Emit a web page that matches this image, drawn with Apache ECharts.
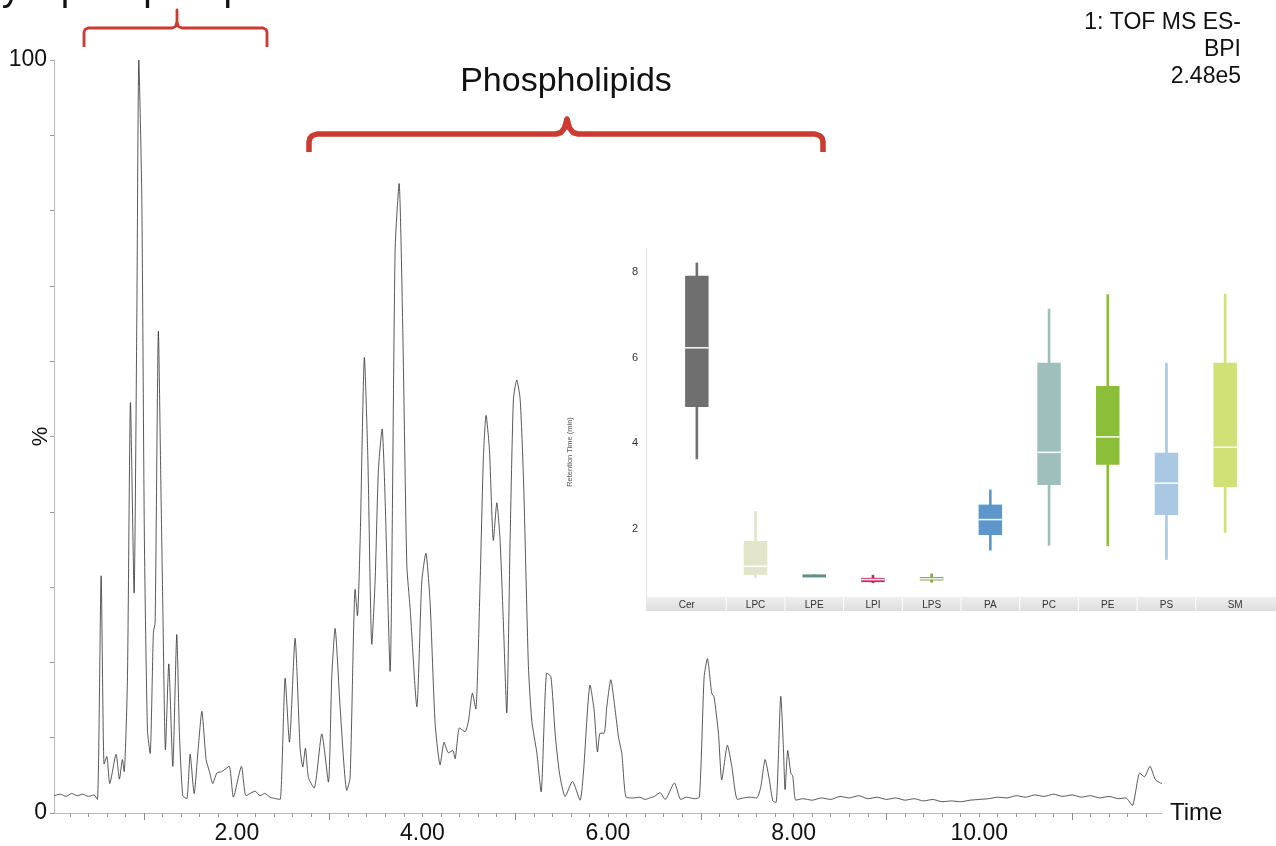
<!DOCTYPE html>
<html>
<head>
<meta charset="utf-8">
<script src="https://cdn.jsdelivr.net/npm/echarts@6/dist/echarts.min.js"></script>
<style>
html,body{margin:0;padding:0;background:#ffffff;}
#chart{width:1276px;height:846px;}
</style>
</head>
<body>
<div id="chart"></div>
<script>
// ---------- chromatogram (BPI trace) ----------
const retentionTime = [
0.03,0.10,0.16,0.22,0.28,0.34,0.40,0.46,0.498,0.538,
0.570,0.599,0.631,0.699,0.735,0.767,0.786,0.821,0.854,0.893,
0.922,0.944,0.976,1.004,1.037,1.066,1.101,1.120,1.155,1.181,
1.202,1.231,1.267,1.310,1.353,1.382,1.418,1.461,1.497,1.540,
1.583,1.623,1.669,1.705,1.741,1.784,1.838,1.917,1.963,2.050,
2.100,2.197,2.251,2.300,2.359,2.420,2.467,2.521,2.567,2.628,
2.682,2.711,2.739,2.772,2.833,2.916,2.987,3.023,3.059,3.113,
3.185,3.221,3.275,3.300,3.329,3.375,3.412,3.455,3.490,3.526,
3.566,3.598,3.652,3.706,3.749,3.789,3.832,3.867,3.940,3.993,
4.037,4.083,4.137,4.191,4.234,4.280,4.328,4.352,4.399,4.460,
4.496,4.539,4.575,4.622,4.657,4.686,4.722,4.765,4.802,4.837,
4.873,4.909,4.945,4.981,5.017,5.053,5.089,5.142,5.179,5.233,
5.279,5.340,5.385,5.430,5.477,5.538,5.617,5.699,5.735,5.807,
5.850,5.887,5.915,5.958,5.987,6.030,6.077,6.113,6.149,6.195,
6.274,6.346,6.400,6.450,6.500,6.561,6.615,6.716,6.784,6.849,
6.928,6.985,7.036,7.071,7.118,7.143,7.190,7.226,7.287,7.334,
7.394,7.459,7.531,7.603,7.647,7.693,7.739,7.776,7.811,7.862,
7.890,7.908,7.937,7.970,7.991,8.024,8.10,8.20,8.30,8.40,
8.50,8.60,8.70,8.80,8.90,9.00,9.10,9.20,9.30,9.40,
9.50,9.60,9.70,9.80,9.90,10.00,10.10,10.20,10.30,10.40,
10.50,10.60,10.70,10.80,10.90,11.00,11.10,11.20,11.30,11.40,
11.50,11.58,11.65,11.73,11.78,11.84,11.90,11.97
];
const bpiPercent = [
2.3,2.5,2.2,2.6,2.3,2.5,2.2,2.4,1.8,31.5,
6.5,7.5,3.9,7.8,4.5,7.1,5.5,17.5,54.5,29.2,
64.9,100,81.8,36.4,11.0,7.9,24.0,25.3,64.0,44.2,
27.9,8.4,19.8,6.2,23.7,10.4,2.3,1.9,7.8,2.6,
8.4,13.5,7.1,5.5,3.9,5.3,5.5,6.2,2.1,6.2,
2.3,2.9,2.3,2.6,2.1,1.9,1.8,17.9,9.4,23.2,
8.6,6.1,8.6,4.7,3.3,10.5,4.1,18.0,24.5,14.1,
3.0,4.7,29.7,26.2,36.2,60.5,47.2,22.4,30.7,45.6,
51.0,41.7,18.8,74.9,83.6,63.8,32.9,27.3,14.1,30.7,
34.5,27.9,11.9,6.4,9.4,8.0,8.3,7.2,11.3,10.8,
12.2,15.9,13.8,30.7,47.2,52.8,48.3,36.2,41.2,36.2,
25.1,13.3,36.2,55.0,57.5,55.0,44.5,19.6,12.2,8.0,
2.8,18.6,18.1,10.6,5.3,2.2,4.2,1.7,5.3,17.0,
13.7,8.1,10.6,10.6,14.1,17.7,13.7,10.1,7.9,2.1,
2.0,2.1,1.8,2.0,2.2,2.7,1.8,4.0,1.8,2.1,
1.9,2.1,18.1,20.5,15.9,15.4,10.6,4.4,9.0,6.2,
1.8,2.0,2.1,2.0,3.5,7.1,4.4,1.6,1.4,15.5,
8.8,3.1,8.3,5.3,4.9,1.7,1.9,1.7,2.0,1.8,
2.2,2.0,2.3,1.9,2.1,1.8,2.0,1.7,1.9,1.6,
1.8,1.5,1.6,1.5,1.7,1.8,1.9,2.1,2.0,2.3,
2.1,2.4,2.2,2.5,2.2,2.4,2.1,2.3,2.0,2.2,
1.9,2.0,1.0,5.3,4.8,6.2,4.4,3.9
];
const timeTickLabels = [2, 4, 6, 8, 10];
const timeMajorTicks = [1, 3, 5, 7, 9, 11];
const percentTickLabels = [0, 100];

// ---------- inset box plot (retention time per lipid class) ----------
const lipidClasses = ['Cer','LPC','LPE','LPI','LPS','PA','PC','PE','PS','SM'];
const whiskerLow  = [3.63, 0.86, 0.88, 0.74, 0.75, 1.50, 1.61, 1.60, 1.28, 1.91];
const quartile1   = [4.85, 0.93, 0.88, 0.76, 0.80, 1.86, 3.03, 3.50, 2.33, 2.98];
const medianRT    = [6.23, 1.13, 0.91, 0.82, 0.84, 2.22, 3.79, 4.15, 3.07, 3.91];
const quartile3   = [7.91, 1.72, 0.94, 0.86, 0.88, 2.57, 5.88, 5.34, 3.78, 5.88];
const whiskerHigh = [8.22, 2.42, 0.94, 0.93, 0.96, 2.92, 7.14, 7.48, 5.88, 7.49];
const rtTickLabels = [2, 4, 6, 8];
const classColors = ['#6f6f6f','#e2e5c9','#5f9189','#c42a5e','#7fa53b','#5c96ca','#9ebfbb','#8cbe3a','#a9c8e3','#d2e176'];

// ---------- layout ----------
const FONT = '"Liberation Sans", Arial, sans-serif';
const MAIN = {left: 54, top: 60, width: 1108, height: 753};
const INSET = {left: 667.5, top: 248, width: 587, height: 350};
const BAND = {x: 646, y: 597, w: 630, h: 14};

const minorTicks = [];
for (let k = 1; k < 60; k++) { const v = Math.round(k * 2) / 10; if (!timeMajorTicks.includes(v)) minorTicks.push(v); }

const chromData = retentionTime.map((t, i) => [t, bpiPercent[i]]);
const boxData = lipidClasses.map((c, i) => [i, whiskerLow[i], quartile1[i], medianRT[i], quartile3[i], whiskerHigh[i]]);

const BRACE = '#cc3a30';
const graphics = [
  {type: 'rect', z: -10, shape: {x: BAND.x, y: BAND.y, width: BAND.w, height: BAND.h},
   style: {fill: {type: 'linear', x: 0, y: 0, x2: 0, y2: 1, colorStops: [{offset: 0, color: '#efefef'}, {offset: 1, color: '#dddddd'}]}}},
  {type: 'text', x: -18, y: -10, style: {text: 'Lysophospholipids', font: '38px ' + FONT, fill: '#111', align: 'left', verticalAlign: 'middle', textAlign: 'left', textVerticalAlign: 'middle'}},
  {type: 'polyline', shape: {points: [[84,47],[84,32],[85,29.5],[88,28],[172,28],[175.5,26.5],[177,22],[177,10],[177,22],[178.5,26.5],[182,28],[263,28],[266,29.5],[267,32],[267,47]]},
   style: {stroke: BRACE, lineWidth: 2.8, fill: null, lineJoin: 'round'}},
  {type: 'text', x: 566, y: 82, style: {text: 'Phospholipids', font: '34px ' + FONT, fill: '#111', align: 'center', verticalAlign: 'middle', textAlign: 'center', textVerticalAlign: 'middle'}},
  {type: 'polyline', shape: {points: [[309,152],[309,142],[310,138],[312.5,135.5],[317,134],[556,134],[561,132.5],[564.5,128],[567,119],[569.5,128],[573,132.5],[578,134],[815,134],[819.5,135.5],[822,138],[823,142],[823,152]]},
   style: {stroke: BRACE, lineWidth: 5.5, fill: null, lineJoin: 'round'}},
  {type: 'text', x: 1241, y: 9, style: {text: '1: TOF MS ES-\nBPI\n2.48e5', font: '23px ' + FONT, lineHeight: 27, fill: '#111', align: 'right', verticalAlign: 'top', textAlign: 'right', textVerticalAlign: 'top'}},
  {type: 'text', x: 570, y: 452, rotation: Math.PI / 2, style: {text: 'Retention Time (min)', font: '7.5px ' + FONT, fill: '#555', align: 'center', verticalAlign: 'middle', textAlign: 'center', textVerticalAlign: 'middle'}}
];
for (let i = 1; i < lipidClasses.length; i++) {
  const x = INSET.left + INSET.width * i / lipidClasses.length;
  graphics.push({type: 'line', z: -9, shape: {x1: x, y1: BAND.y, x2: x, y2: BAND.y + BAND.h}, style: {stroke: '#ffffff', lineWidth: 1}});
}

const chart = echarts.init(document.getElementById('chart'), null, {renderer: 'canvas'});
chart.setOption({
  animation: false,
  backgroundColor: '#ffffff',
  textStyle: {fontFamily: FONT},
  grid: [
    {left: MAIN.left, top: MAIN.top, width: MAIN.width, height: MAIN.height, containLabel: false, outerBoundsMode: 'none'},
    {left: INSET.left, top: INSET.top, width: INSET.width, height: INSET.height, containLabel: false, outerBoundsMode: 'none'}
  ],
  xAxis: [
    {type: 'value', gridIndex: 0, min: 0.03, max: 11.97,
     axisLine: {show: true, lineStyle: {color: '#b8b8b8', width: 1}},
     axisTick: {show: true, customValues: minorTicks, length: 4, lineStyle: {color: '#9a9a9a', width: 1}},
     axisLabel: {customValues: timeTickLabels, formatter: v => Number(v).toFixed(2), fontSize: 23, color: '#111', margin: 9, fontFamily: FONT},
     splitLine: {show: false},
     name: 'Time', nameLocation: 'end', nameGap: 8, nameMoveOverlap: false,
     nameTextStyle: {fontSize: 24, color: '#111', fontFamily: FONT}},
    {type: 'value', gridIndex: 0, min: 0.03, max: 11.97, position: 'bottom', offset: 0,
     axisLine: {show: false},
     axisTick: {show: true, customValues: timeMajorTicks, length: 7, lineStyle: {color: '#8a8a8a', width: 1}},
     axisLabel: {show: false}, splitLine: {show: false}},
    {type: 'category', gridIndex: 1, data: lipidClasses, boundaryGap: true,
     axisLine: {show: false}, axisTick: {show: false},
     axisLabel: {interval: 0, fontSize: 10, color: '#333', margin: 2, fontFamily: FONT,
       formatter: (v, i) => i === 0 ? '{first|' + v + '}' : (i === lipidClasses.length - 1 ? '{last|' + v + '}' : v),
       rich: {first: {padding: [0, 20, 0, 0], fontSize: 10, color: '#333'}, last: {padding: [0, 0, 0, 20], fontSize: 10, color: '#333'}}},
     splitLine: {show: false}}
  ],
  yAxis: [
    {type: 'value', gridIndex: 0, min: 0, max: 100, interval: 10,
     axisLine: {show: true, lineStyle: {color: '#b8b8b8', width: 1}},
     axisTick: {show: true, length: 4, lineStyle: {color: '#9a9a9a'}},
     axisLabel: {customValues: percentTickLabels, fontSize: 23, color: '#111', margin: 7, fontFamily: FONT},
     splitLine: {show: false},
     name: '%', nameLocation: 'middle', nameRotate: 90, nameGap: 2, nameMoveOverlap: false,
     nameTextStyle: {fontSize: 22, color: '#111', fontFamily: FONT}},
    {type: 'value', gridIndex: 1, min: 0.39, max: 8.56, offset: 21.5,
     axisLine: {show: true, lineStyle: {color: '#e3e3e3', width: 1}},
     axisTick: {show: false},
     axisLabel: {customValues: rtTickLabels, fontSize: 11, color: '#333', margin: 8, fontFamily: FONT},
     splitLine: {show: false}}
  ],
  series: [
    {type: 'line', xAxisIndex: 0, yAxisIndex: 0, data: chromData, showSymbol: false, symbol: 'none',
     smooth: 0.2, lineStyle: {color: '#2e2e2e', width: 0.8}, z: 3, silent: true},
    {type: 'custom', xAxisIndex: 2, yAxisIndex: 1, data: boxData, encode: {x: 0, y: [1, 2, 3, 4, 5]},
     renderItem: function (params, api) {
       const i = api.value(0);
       const lo = api.coord([i, api.value(1)]);
       const q1 = api.coord([i, api.value(2)]);
       const md = api.coord([i, api.value(3)]);
       const q3 = api.coord([i, api.value(4)]);
       const hi = api.coord([i, api.value(5)]);
       const bw = api.size([1, 0])[0] * 0.4;
       const col = classColors[params.dataIndex];
       const h = Math.max(q1[1] - q3[1], 3);
       const children = [
         {type: 'line', shape: {x1: lo[0], y1: lo[1], x2: hi[0], y2: hi[1]}, style: {stroke: col, lineWidth: 2.6}},
         {type: 'rect', shape: {x: q3[0] - bw / 2, y: q3[1], width: bw, height: h}, style: {fill: col}}
       ];
       if (q1[1] - q3[1] > 2.8) {
         children.push({type: 'line', shape: {x1: md[0] - bw / 2, y1: md[1], x2: md[0] + bw / 2, y2: md[1]}, style: {stroke: 'rgba(255,255,255,0.9)', lineWidth: 1.6}});
       }
       return {type: 'group', children: children};
     }}
  ],
  graphic: {elements: graphics}
});
</script>
</body>
</html>
